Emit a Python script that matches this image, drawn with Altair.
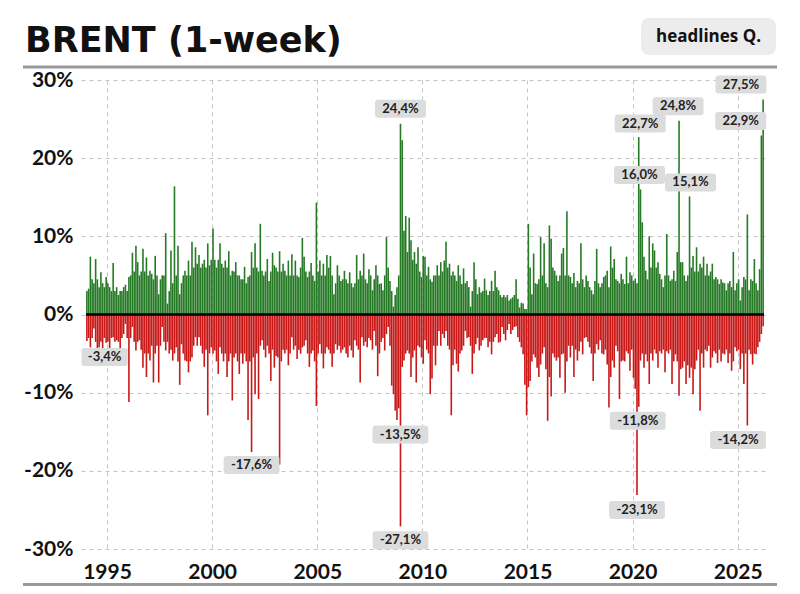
import altair as alt
import pandas as pd

# ---------------- data: strongest weekly gain / loss of each month (in %) ----------------
gains_1994_1999 = [
    [3.0, 3.3, 7.4, 4.5, 4.0, 7.1, 4.5, 3.5, 5.4, 4.0, 3.5, 4.8],
    [4.0, 3.5, 3.0, 6.6, 3.0, 3.5, 2.5, 3.0, 3.0, 3.5, 3.8, 3.0],
    [4.8, 5.0, 7.9, 5.5, 8.8, 6.7, 5.0, 5.5, 8.4, 5.5, 7.3, 5.0],
    [5.6, 5.2, 4.5, 7.5, 5.0, 2.6, 4.5, 5.0, 5.0, 10.4, 1.4, 3.0],
    [8.2, 4.0, 16.4, 5.0, 8.8, 2.6, 4.0, 5.0, 5.6, 5.0, 6.9, 5.0],
    [9.3, 6.0, 8.6, 6.5, 7.6, 6.0, 6.5, 7.0, 6.0, 9.1, 6.3, 7.0],
]
gains_2000_2009 = [
    [11.0, 7.0, 6.0, 7.0, 9.1, 6.5, 6.0, 6.9, 6.0, 8.1, 5.0, 5.6],
    [5.5, 6.7, 5.0, 5.0, 4.5, 4.5, 6.1, 4.0, 4.8, 5.0, 8.0, 6.0],
    [9.1, 6.0, 5.5, 11.6, 5.6, 5.0, 5.5, 7.1, 4.3, 5.5, 7.9, 6.3],
    [6.0, 5.5, 8.1, 5.5, 6.5, 5.6, 5.0, 6.9, 5.0, 7.7, 5.0, 6.9],
    [5.0, 4.8, 6.0, 9.8, 7.4, 5.5, 4.8, 5.5, 6.6, 5.0, 4.3, 14.3],
    [5.5, 6.9, 5.0, 6.5, 5.0, 7.6, 6.0, 7.5, 5.0, 2.6, 4.0, 6.3],
    [5.0, 4.3, 4.5, 5.6, 4.5, 4.0, 5.4, 4.0, 3.5, 4.0, 7.6, 4.5],
    [5.6, 5.0, 7.8, 4.5, 4.0, 5.8, 5.0, 3.1, 4.5, 6.3, 5.0, 3.9],
    [4.0, 3.1, 5.0, 9.9, 6.0, 4.3, 3.0, 1.0, 2.5, 3.5, 5.0, 24.4],
    [22.3, 10.7, 12.6, 8.0, 12.4, 9.5, 7.0, 8.0, 6.5, 8.6, 5.5, 4.8],
]
gains_2010_2019 = [
    [7.5, 7.4, 5.0, 6.1, 4.5, 4.2, 5.0, 5.0, 6.3, 5.0, 6.7, 5.5],
    [6.9, 9.3, 6.0, 6.5, 5.0, 5.5, 5.0, 4.3, 6.3, 5.0, 3.9, 5.9],
    [4.0, 4.3, 3.5, 1.0, 3.0, 6.7, 4.5, 2.6, 3.5, 2.8, 3.0, 4.6],
    [3.1, 2.5, 3.0, 4.3, 3.0, 5.6, 3.5, 3.1, 2.5, 2.2, 2.5, 2.2],
    [2.5, 1.8, 2.0, 2.2, 2.5, 4.5, 2.0, 0.9, 1.5, 1.4, 0.7, 0.7],
    [11.6, 6.0, 2.6, 7.8, 4.0, 3.9, 4.5, 9.9, 5.0, 9.1, 4.0, 3.5],
    [11.4, 9.7, 6.0, 5.6, 5.0, 4.3, 5.0, 7.8, 8.5, 5.0, 13.2, 5.0],
    [4.8, 4.0, 5.3, 3.5, 4.3, 4.0, 9.1, 4.5, 3.5, 5.0, 4.3, 3.5],
    [3.1, 2.6, 4.3, 8.4, 4.0, 3.5, 4.0, 4.8, 5.0, 5.6, 3.5, 8.7],
    [6.0, 7.1, 4.5, 4.3, 4.0, 5.2, 4.5, 3.9, 7.4, 4.0, 5.4, 5.0],
]
gains_2020_2026 = [
    [4.3, 4.6, 4.0, 22.7, 16.0, 11.8, 7.4, 5.6, 4.5, 10.0, 6.0, 9.1],
    [8.2, 6.0, 6.7, 5.2, 4.5, 3.5, 5.0, 10.3, 5.0, 4.3, 4.5, 5.6],
    [4.3, 8.0, 24.8, 6.7, 6.7, 5.0, 4.3, 5.0, 15.1, 6.0, 7.5, 5.5],
    [8.6, 5.5, 6.5, 6.0, 7.4, 5.0, 6.5, 5.0, 5.5, 6.5, 4.5, 4.8],
    [4.5, 3.9, 4.5, 4.1, 4.0, 3.1, 4.0, 4.3, 3.5, 8.0, 3.1, 4.0],
    [4.5, 1.8, 3.5, 4.8, 4.5, 12.8, 3.1, 4.5, 4.3, 7.1, 4.0, 3.1],
    [5.8, 22.9, 27.5],
]

losses_1994_1999 = [
    [-3.4, -3.0, -4.2, -3.0, -1.8, -3.5, -5.0, -4.2, -3.5, -6.5, -3.0, -3.6],
    [-3.5, -5.0, -3.0, -2.9, -3.5, -3.3, -3.5, -4.4, -3.0, -2.5, -1.2, -3.0],
    [-11.2, -3.0, -1.6, -3.5, -4.6, -3.5, -3.3, -4.5, -6.8, -5.0, -8.0, -5.0],
    [-5.9, -4.0, -8.7, -5.0, -4.0, -8.7, -4.0, -1.6, -3.5, -4.6, -3.5, -5.0],
    [-4.5, -5.9, -5.0, -4.2, -6.0, -9.0, -3.8, -5.0, -5.9, -6.0, -7.4, -6.0],
    [-5.5, -4.0, -2.9, -4.0, -2.9, -4.0, -5.0, -6.7, -4.5, -12.9, -5.0, -4.2],
]
losses_2000_2009 = [
    [-5.0, -4.6, -6.0, -7.6, -4.2, -5.0, -6.0, -5.0, -8.0, -6.0, -5.0, -11.0],
    [-5.5, -5.0, -6.0, -7.6, -5.0, -6.3, -5.0, -6.0, -13.5, -6.0, -17.6, -5.5],
    [-10.2, -5.0, -10.8, -4.0, -3.3, -4.5, -5.5, -4.0, -5.0, -8.5, -4.5, -6.8],
    [-5.3, -5.5, -19.2, -6.0, -4.5, -5.0, -4.5, -6.5, -5.0, -2.9, -4.5, -4.0],
    [-5.7, -4.5, -5.0, -4.2, -4.0, -3.3, -5.0, -6.7, -5.0, -4.6, -6.0, -11.7],
    [-5.0, -3.8, -5.0, -6.9, -5.0, -4.2, -4.5, -5.0, -6.7, -5.0, -3.8, -4.5],
    [-4.0, -4.9, -4.5, -4.2, -5.0, -5.5, -4.0, -4.6, -5.5, -3.3, -4.0, -4.5],
    [-8.7, -2.9, -4.0, -3.5, -4.2, -3.0, -3.3, -4.5, -2.1, -4.0, -7.9, -5.0],
    [-3.5, -3.0, -4.6, -2.5, -1.6, -4.0, -9.1, -10.2, -12.3, -13.5, -12.0, -27.1],
    [-6.7, -5.9, -5.0, -4.6, -5.0, -8.0, -5.5, -4.6, -8.7, -4.0, -4.2, -5.5],
]
losses_2010_2019 = [
    [-6.3, -3.3, -4.5, -5.0, -10.2, -8.2, -4.0, -6.5, -4.0, -2.1, -4.0, -2.5],
    [-3.0, -2.1, -4.0, -4.5, -12.9, -6.5, -4.5, -6.3, -7.3, -5.0, -4.6, -4.0],
    [-2.1, -3.0, -2.9, -4.0, -7.6, -5.0, -3.8, -3.0, -4.6, -4.0, -3.3, -3.0],
    [-3.0, -4.2, -3.5, -5.1, -3.5, -2.9, -2.5, -3.6, -3.5, -1.6, -2.5, -3.3],
    [-2.0, -1.2, -2.5, -2.0, -1.6, -1.5, -2.9, -3.5, -4.2, -5.1, -9.0, -12.9],
    [-9.3, -8.5, -6.0, -5.1, -5.5, -6.8, -8.0, -6.4, -5.0, -4.2, -7.0, -13.6],
    [-8.0, -10.5, -5.0, -5.5, -5.9, -5.5, -8.1, -5.1, -5.0, -10.0, -6.0, -4.0],
    [-5.5, -4.0, -8.0, -4.5, -5.9, -4.7, -3.5, -5.1, -3.0, -2.9, -3.5, -4.2],
    [-5.0, -8.5, -5.0, -3.8, -4.5, -3.3, -5.0, -5.1, -4.5, -6.4, -11.9, -8.0],
    [-5.9, -6.8, -4.0, -4.7, -10.8, -6.0, -5.9, -6.0, -4.7, -5.0, -7.2, -4.5],
]
losses_2020_2026 = [
    [-8.1, -9.5, -23.1, -11.8, -5.9, -5.0, -6.8, -5.1, -6.0, -8.9, -5.0, -5.9],
    [-4.5, -5.0, -6.8, -4.7, -5.0, -4.5, -7.4, -4.7, -5.0, -4.5, -8.9, -6.0],
    [-5.1, -6.0, -10.4, -7.0, -6.8, -6.0, -8.9, -6.5, -8.1, -6.8, -10.2, -7.0],
    [-5.9, -4.5, -12.3, -5.0, -6.8, -4.5, -4.7, -4.0, -6.8, -5.5, -4.7, -5.0],
    [-6.2, -4.5, -6.0, -5.0, -5.1, -4.5, -6.2, -5.0, -7.2, -6.0, -4.2, -4.7],
    [-4.5, -7.0, -5.0, -8.9, -5.0, -14.2, -4.5, -5.1, -6.4, -5.0, -5.1, -4.2],
    [-3.5, -2.5, -1.5],
]

# labelled weeks: text, year, month, value
ann_text = ["-3,4%", "-17,6%", "24,4%", "-13,5%", "-27,1%", "22,7%", "16,0%",
            "-11,8%", "-23,1%", "24,8%", "15,1%", "27,5%", "22,9%", "-14,2%"]
ann_year = [1994, 2001, 2008, 2008, 2008, 2020, 2020, 2020, 2020, 2022, 2022, 2026, 2026, 2025]
ann_month = [1, 11, 12, 10, 12, 4, 5, 4, 3, 3, 9, 3, 2, 6]
ann_value = [-3.4, -17.6, 24.4, -13.5, -27.1, 22.7, 16.0, -11.8, -23.1, 24.8, 15.1, 27.5, 22.9, -14.2]
# label placement relative to the bar tip (pixels)
ann_dx = [18, 0, 0, 3.5, 0, 1.5, -1, -1, 0, -1, 1, -22.5, -21, -9.5]
ann_dy = [16, 13, -15, 14.5, 14, -13.5, -14.5, 14, 15, -14.5, -14, -15, -14.5, 14.5]

x_ticks = [1995, 2000, 2005, 2010, 2015, 2020, 2025]
y_ticks = [-30, -20, -10, 0, 10, 20, 30]

GREEN = "#267a26"
RED = "#c81818"

W, H = 688, 469
X_DOMAIN = [1994.0, 2026.25]
Y_DOMAIN = [-30, 30]

# ---------------- build tables ----------------
rows = []
for start, block, sign in [
    (1994, gains_1994_1999, "up"), (2000, gains_2000_2009, "up"),
    (2010, gains_2010_2019, "up"), (2020, gains_2020_2026, "up"),
    (1994, losses_1994_1999, "down"), (2000, losses_2000_2009, "down"),
    (2010, losses_2010_2019, "down"), (2020, losses_2020_2026, "down"),
]:
    for i, yr in enumerate(block):
        for k, v in enumerate(yr):
            rows.append({"t": start + i + (k + 0.5) / 12.0, "v": v, "sign": sign})
bars_df = pd.DataFrame(rows)


def box_path(w, h=18.0, r=3.0):
    a, b = w / 2.0, h / 2.0
    return (f"M{-a + r},{-b} L{a - r},{-b} Q{a},{-b} {a},{-b + r} L{a},{b - r} "
            f"Q{a},{b} {a - r},{b} L{-a + r},{b} Q{-a},{b} {-a},{b - r} "
            f"L{-a},{-b + r} Q{-a},{-b} {-a + r},{-b} Z")


x_per_px = (X_DOMAIN[1] - X_DOMAIN[0]) / W
y_per_px = (Y_DOMAIN[1] - Y_DOMAIN[0]) / H
ann_rows = []
for txt, yr, mo, val, dx, dy in zip(ann_text, ann_year, ann_month, ann_value, ann_dx, ann_dy):
    neg = txt.startswith("-")
    w = 9.6 * (len(txt) - (0.5 if neg else 0)) + 3
    t = yr + (mo - 0.5) / 12.0
    ann_rows.append({"label": txt, "t": t + dx * x_per_px, "v": val - dy * y_per_px,
                     "shape": box_path(w)})
ann_df = pd.DataFrame(ann_rows)

# ---------------- chart ----------------
xscale = alt.Scale(domain=X_DOMAIN, nice=False, zero=False)
yscale = alt.Scale(domain=Y_DOMAIN, nice=False)

x_axis = alt.Axis(values=x_ticks, format="d", title=None, domain=False, ticks=False,
                  labelFont="Lato", labelFontWeight="bold", labelFontSize=21,
                  labelColor="#111111", labelPadding=12, labelFlush=False,
                  grid=True, gridDash=[4, 4], gridColor="#c4c4c4", gridWidth=1)
y_axis = alt.Axis(values=y_ticks, labelExpr="datum.value + '%'", title=None,
                  domain=False, ticks=False, labelFont="Lato", labelFontWeight="bold",
                  labelFontSize=21, labelColor="#111111", labelPadding=8,
                  grid=True, gridDash=[4, 4], gridColor="#c4c4c4", gridWidth=1)

bars = alt.Chart(bars_df).mark_bar(size=1.6).encode(
    x=alt.X("t:Q", scale=xscale, axis=x_axis),
    y=alt.Y("v:Q", scale=yscale, axis=y_axis),
    color=alt.Color("sign:N", scale=alt.Scale(domain=["up", "down"], range=[GREEN, RED]),
                    legend=None),
)

zero = alt.Chart(pd.DataFrame({"z": [0]})).mark_rule(color="#000000", strokeWidth=2.5).encode(
    y=alt.Y("z:Q", scale=yscale),
    x=alt.datum(X_DOMAIN[0], scale=xscale),
    x2=alt.datum(X_DOMAIN[1]),
)

boxes = alt.Chart(ann_df).mark_point(filled=True, fill="#dcdcdc", opacity=1,
                                     strokeWidth=0, size=4).encode(
    x=alt.X("t:Q", scale=xscale),
    y=alt.Y("v:Q", scale=yscale),
    shape=alt.Shape("shape:N", scale=None, legend=None),
)

labels = alt.Chart(ann_df).mark_text(font="Lato", fontWeight="bold", fontSize=13,
                                     color="#222222", align="center",
                                     baseline="middle").encode(
    x=alt.X("t:Q", scale=xscale),
    y=alt.Y("v:Q", scale=yscale),
    text="label:N",
)

one = pd.DataFrame({"k": [0]})
top_line = alt.Chart(one).mark_rule(color="#9a9a9a", strokeWidth=3).encode(
    x=alt.value(-58), x2=alt.value(696), y=alt.value(-13))
bottom_line = alt.Chart(one).mark_rule(color="#9a9a9a", strokeWidth=3).encode(
    x=alt.value(-58), x2=alt.value(696), y=alt.value(504.5))

title = alt.Chart(pd.DataFrame({"s": ["BRENT (1-week)"]})).mark_text(
    font="DejaVu Sans", fontWeight="bold", fontSize=35, color="#111111",
    align="left", baseline="alphabetic").encode(
    x=alt.value(-56), y=alt.value(-28), text="s:N")

badge = alt.Chart(one).mark_rect(fill="#ececec", cornerRadius=8).encode(
    x=alt.value(560), x2=alt.value(695), y=alt.value(-62), y2=alt.value(-25))
badge_text = alt.Chart(pd.DataFrame({"s": ["headlines Q."]})).mark_text(
    font="Open Sans", fontWeight="bold", fontSize=17, color="#111111",
    align="center", baseline="middle").encode(
    x=alt.value(627.5), y=alt.value(-43), text="s:N")

chart = alt.layer(
    bars, zero, boxes, labels, top_line, bottom_line, title, badge, badge_text
).properties(
    width=W, height=H,
    autosize=alt.AutoSizeParams(type="none"),
    padding={"left": 73, "top": 72, "right": 23, "bottom": 37},
    background="white",
).configure_view(stroke=None)

chart.save("out.html", embed_options={"renderer": "svg", "actions": False})
